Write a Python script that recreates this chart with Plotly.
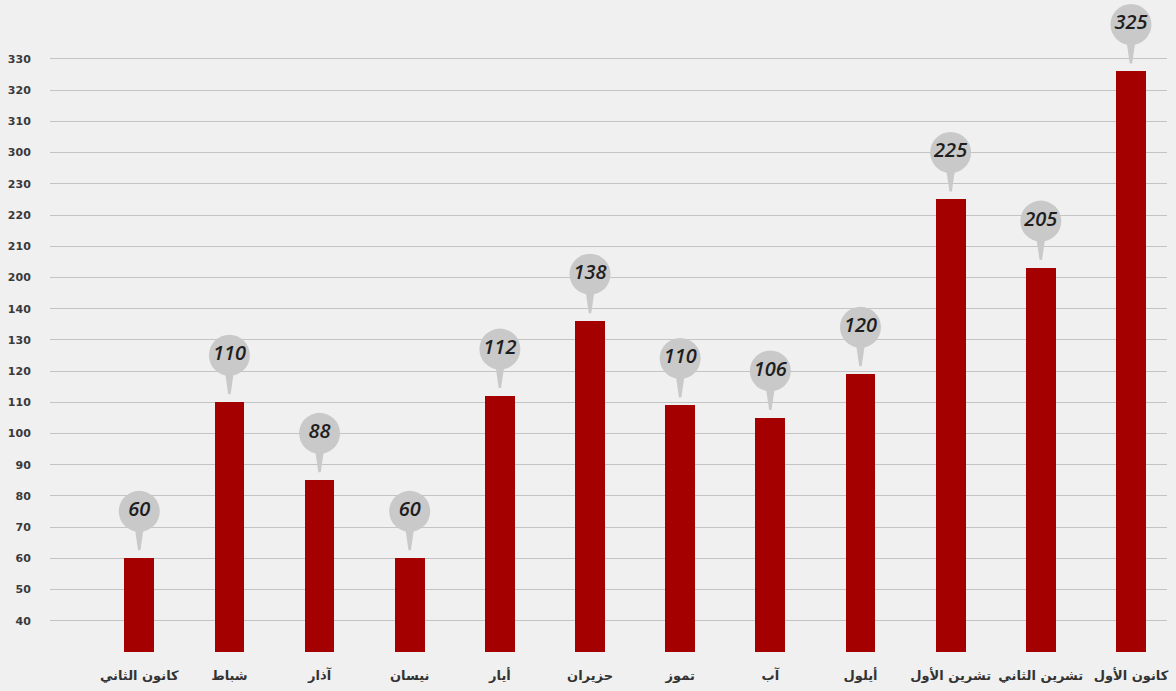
import plotly.graph_objects as go

# ---- data ----
months = ["كانون الثاني", "شباط", "آذار", "نيسان", "أيار", "حزيران",
          "تموز", "آب", "أيلول", "تشرين الأول", "تشرين الثاني", "كانون الأول"]
bar_values = [60, 110, 85, 60, 112, 136, 109, 105, 119, 225, 203, 326]
label_values = [60, 110, 88, 60, 112, 138, 110, 106, 120, 225, 205, 325]
tick_values = [40, 50, 60, 70, 80, 90, 100, 110, 120, 130, 140,
               200, 210, 220, 230, 300, 310, 320, 330]

# broken (piecewise) value scale: each tick is one equal step
def to_pos(v):
    if v <= 140:
        return (v - 40) / 10
    if v < 200:
        return 10 + (v - 140) / 60
    if v <= 230:
        return 11 + (v - 200) / 10
    if v < 300:
        return 14 + (v - 230) / 70
    return 15 + (v - 300) / 10

W, H = 1176, 691
m_l, m_r, m_t, m_b = 50, 9, 0, 39
y_lo, y_hi = -1, 19.89
px_per_unit = (H - m_t - m_b) / (y_hi - y_lo)

BG = "#f0f0f0"
BUBBLE = "#c9c9c9"

bar_pos = [to_pos(v) for v in bar_values]
bubble_pos = [p + 47 / px_per_unit for p in bar_pos]
x = list(range(len(months)))

fig = go.Figure()
fig.add_trace(go.Bar(
    x=x, y=[p - y_lo for p in bar_pos], base=y_lo,
    marker=dict(color="#a40000", line=dict(width=0)),
    width=0.33, hoverinfo="skip"))

# bubble pointers (pixel-sized, anchored on each bar top)
for xi, p in zip(x, bar_pos):
    fig.add_shape(type="path", xref="x", yref="y",
                  xsizemode="pixel", ysizemode="pixel",
                  xanchor=xi, yanchor=p,
                  path="M -5 34 L 5 34 L 1.2 8 L -1.2 8 Z",
                  fillcolor=BUBBLE, line=dict(width=0), layer="above")

fig.add_trace(go.Scatter(
    x=x, y=bubble_pos, mode="markers+text",
    marker=dict(symbol="circle", size=41, color=BUBBLE, line=dict(width=0)),
    text=[f"<i>{v}</i>" for v in label_values],
    textposition="middle center",
    textfont=dict(family="Open Sans, DejaVu Sans", size=20, weight=600,
                  color="#1e1e1e"),
    hoverinfo="skip"))

fig.update_layout(
    width=W, height=H,
    margin=dict(l=m_l, r=m_r, t=m_t, b=m_b),
    paper_bgcolor=BG, plot_bgcolor=BG,
    showlegend=False, bargap=0,
    xaxis=dict(range=[-0.99, 11.4], tickvals=x,
               ticktext=[f"<b>{m}</b>" for m in months],
               tickfont=dict(family="DejaVu Sans", size=13, color="#333333"),
               showgrid=False, zeroline=False, showline=False,
               ticks="outside", ticklen=11, tickcolor="rgba(0,0,0,0)"),
    yaxis=dict(range=[y_lo, y_hi],
               tickvals=[y_lo] + [to_pos(v) for v in tick_values],
               ticktext=[""] + [f"<b>{v}</b>" for v in tick_values],
               tickfont=dict(family="DejaVu Sans", size=11, color="#3a3a3a"),
               showgrid=True, gridcolor="#c4c4c4", gridwidth=1.2,
               zeroline=False, showline=False,
               ticks="outside", ticklen=16, tickcolor="rgba(0,0,0,0)"),
)

fig.write_html("out.html",
               config={"displayModeBar": False},
               post_script="document.body.style.margin='0';"
                           "document.body.style.background='%s';" % BG)
